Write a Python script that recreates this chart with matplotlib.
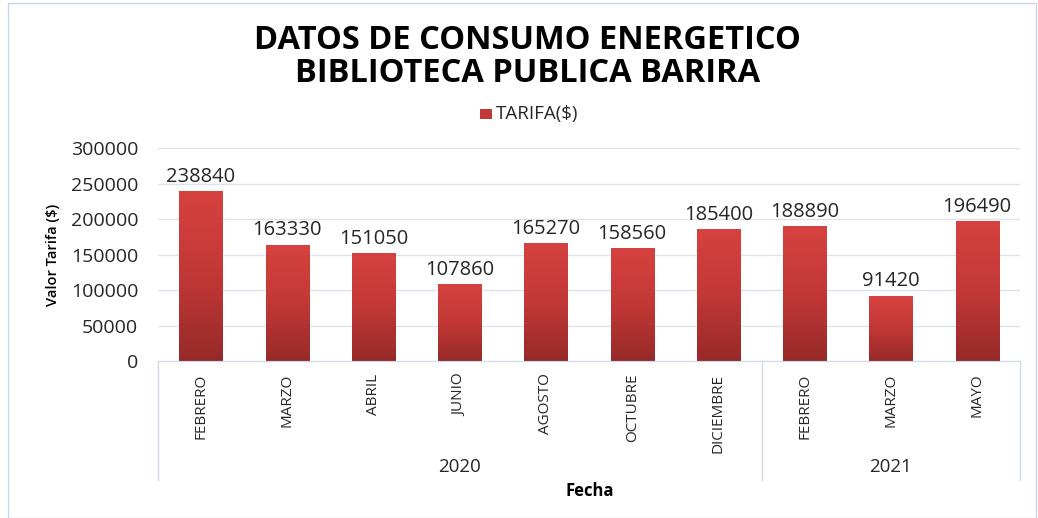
import numpy as np
import matplotlib.pyplot as plt
from matplotlib.colors import LinearSegmentedColormap
from matplotlib.patches import Rectangle

# datos
meses = ["FEBRERO", "MARZO", "ABRIL", "JUNIO", "AGOSTO", "OCTUBRE", "DICIEMBRE",
         "FEBRERO", "MARZO", "MAYO"]
anios = ["2020", "2021"]
meses_por_anio = [7, 3]
tarifa = [238840, 163330, 151050, 107860, 165270, 158560, 185400, 188890, 91420, 196490]

plt.rcParams['font.family'] = ['Open Sans', 'DejaVu Sans']

fig = plt.figure(figsize=(10.38, 5.18), dpi=100)
ax = fig.add_axes([0.152, 0.303, 0.831, 0.411])

# degradado rojo para las barras
cmap = LinearSegmentedColormap.from_list("rojo", ["#962a29", "#c23836", "#d6423f"])
grad = np.linspace(0, 1, 256).reshape(-1, 1)
x = np.arange(len(tarifa))
ancho = 0.5
for xi, v in zip(x, tarifa):
    ax.imshow(grad, cmap=cmap, origin="lower", aspect="auto",
              extent=(xi - ancho / 2, xi + ancho / 2, 0, v), zorder=2)
    ax.text(xi, v + 7000, str(v), ha="center", va="bottom", fontsize=14.5, color="#262626")

ax.set_xlim(-0.5, len(tarifa) - 0.5)
ax.set_ylim(0, 300000)
ax.set_yticks(np.arange(0, 300001, 50000))
ax.yaxis.grid(True, color="#dbe3ef", linewidth=1)
ax.set_axisbelow(True)
for s in ["top", "right", "left"]:
    ax.spines[s].set_visible(False)
ax.spines["bottom"].set_color("#d0dae8")
ax.tick_params(axis="y", length=0, pad=14, labelsize=14, labelcolor="#262626")
ax.set_xticks(x)
ax.set_xticklabels(meses, rotation=90, fontsize=11, color="#262626")
ax.tick_params(axis="x", length=0, pad=9)
ax.set_ylabel("Valor Tarifa ($)", fontsize=10.5, fontweight="semibold", labelpad=8)

# grupos de anio bajo las etiquetas
tr = ax.get_xaxis_transform()
bordes = np.concatenate([[0], np.cumsum(meses_por_anio)]) - 0.5
for b in bordes:
    ax.plot([b, b], [0, -0.56], transform=tr, color="#d0dae8", lw=1, clip_on=False)
for i, a in enumerate(anios):
    ax.text((bordes[i] + bordes[i + 1]) / 2, -0.5, a, transform=tr,
            ha="center", va="center", fontsize=13.5, color="#262626")

fig.text(0.568, 0.053, "Fecha", ha="center", va="center", fontsize=12, fontweight="bold")
fig.text(0.508, 0.89, "DATOS DE CONSUMO ENERGETICO\nBIBLIOTECA PUBLICA BARIRA",
         ha="center", va="center", fontsize=23.5, fontweight="bold", linespacing=1.0)

# leyenda
fig.patches.append(Rectangle((0.462, 0.77), 0.012, 0.02, transform=fig.transFigure,
                             facecolor="#c23836", edgecolor="none"))
fig.text(0.478, 0.779, "TARIFA($)", ha="left", va="center", fontsize=13.5, color="#262626")

# marco del grafico
fig.patches.append(Rectangle((0.008, 0.0), 0.99, 0.995, transform=fig.transFigure,
                             fill=False, edgecolor="#c9d6ea", lw=1))

fig.savefig("out.png", dpi=100)
